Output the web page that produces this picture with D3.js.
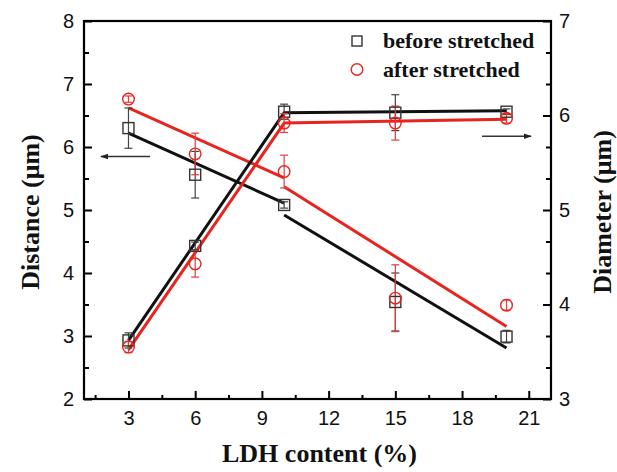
<!DOCTYPE html>
<html><head><meta charset="utf-8">
<script src="https://cdn.jsdelivr.net/npm/d3@7"></script>
<style>body{margin:0;background:#fff}svg{display:block}</style>
</head><body>
<script>
// ---- data ----
const xVals = [3, 6, 10, 15, 20];
const distBefore = [6.30, 5.56, 5.08, 3.54, 2.99];
const distBeforeErr = [0.32, 0.37, 0.05, 0.46, 0.10];
const distAfter = [6.76, 5.89, 5.61, 3.60, 3.49];
const distAfterErr = [0.05, 0.33, 0.26, 0.53, 0.08];
const diamBefore = [3.62, 4.62, 6.04, 6.03, 6.04];
const diamBeforeErr = [0.08, 0.04, 0.08, 0.19, 0.03];
const diamAfter = [3.55, 4.43, 5.92, 5.92, 5.97];
const diamAfterErr = [0.06, 0.14, 0.10, 0.18, 0.05];
// fitted line segments [x, y]
const distBeforeFit1 = [[3, 6.22], [10, 5.11]];
const distBeforeFit2 = [[10, 4.92], [20, 2.81]];
const distAfterFit1 = [[3, 6.62], [10, 5.51]];
const distAfterFit2 = [[10, 5.37], [20, 3.15]];
const diamBeforeFit = [[3, 3.62], [10, 6.03], [20, 6.05]];
const diamAfterFit = [[3, 3.52], [10, 5.92], [20, 5.96]];
// arrows indicating axes
const leftArrow = [[3.97, 5.85], [1.76, 5.85]];
const rightArrow = [[18.9, 5.78], [21.1, 5.78]];
const xTicks = [3, 6, 9, 12, 15, 18, 21];
const yLeftTicks = [2, 3, 4, 5, 6, 7, 8];
const yRightTicks = [3, 4, 5, 6, 7];
const legendLabels = ["before stretched", "after stretched"];

const W = 617, H = 472;
const m = {l: 84, r: 551, t: 21, b: 399};
const BLACK = "#111", RED = "#e8241f", ERRB = "#444", ERRR = "#e53a3a";

const svg = d3.select("body").append("svg").attr("width", W).attr("height", H)
  .style("font-family", "'Liberation Sans', Arial, sans-serif");
svg.append("rect").attr("width", W).attr("height", H).attr("fill", "#fff");

const x = d3.scaleLinear().domain([1, 22]).range([m.l, m.r]);
const yL = d3.scaleLinear().domain([2, 8]).range([m.b, m.t]);
const yR = d3.scaleLinear().domain([3, 7]).range([m.b, m.t]);

// axes (ticks inward)
const fmt = d3.format("d");
const tickStyle = g => {
  g.select(".domain").remove();
  g.selectAll("line").attr("stroke", "#000").attr("stroke-width", 2);
  g.selectAll("text").attr("font-size", 20).attr("fill", "#111");
};
// bottom
const xMinor = d3.range(1.5, 22, 3);
svg.append("g").attr("transform", `translate(0,${m.b})`)
  .call(d3.axisBottom(x).tickValues(xMinor).tickSize(-4).tickFormat(""))
  .call(tickStyle);
svg.append("g").attr("transform", `translate(0,${m.b})`)
  .call(d3.axisBottom(x).tickValues(xTicks).tickSize(-8).tickPadding(12).tickFormat(fmt))
  .call(tickStyle);
// left
svg.append("g").attr("transform", `translate(${m.l},0)`)
  .call(d3.axisLeft(yL).tickValues(d3.range(2.5, 8, 1)).tickSize(-5).tickFormat(""))
  .call(tickStyle);
svg.append("g").attr("transform", `translate(${m.l},0)`)
  .call(d3.axisLeft(yL).tickValues(yLeftTicks).tickSize(-8).tickPadding(10).tickFormat(fmt))
  .call(tickStyle);
// right
const rMinor = [];
for (let v = 3; v < 7; v++) { rMinor.push(v + 1/3, v + 2/3); }
svg.append("g").attr("transform", `translate(${m.r},0)`)
  .call(d3.axisRight(yR).tickValues(rMinor).tickSize(-5).tickFormat(""))
  .call(tickStyle);
svg.append("g").attr("transform", `translate(${m.r},0)`)
  .call(d3.axisRight(yR).tickValues(yRightTicks).tickSize(-8).tickPadding(8).tickFormat(fmt))
  .call(tickStyle);
// frame
svg.append("rect").attr("x", m.l).attr("y", m.t).attr("width", m.r - m.l).attr("height", m.b - m.t)
  .attr("fill", "none").attr("stroke", "#000").attr("stroke-width", 2.2);

// axis titles
const titleFont = "'Liberation Serif', 'Times New Roman', serif";
svg.append("text").attr("x", (m.l + m.r) / 2 + 2).attr("y", 462).attr("text-anchor", "middle")
  .attr("font-family", titleFont).attr("font-weight", "bold").attr("font-size", 26).attr("fill", "#111")
  .text("LDH content (%)");
svg.append("text").attr("transform", `translate(39,${(m.t + m.b) / 2 + 2}) rotate(-90)`).attr("text-anchor", "middle")
  .attr("font-family", titleFont).attr("font-weight", "bold").attr("font-size", 26).attr("fill", "#111")
  .text("Distance (μm)");
svg.append("text").attr("transform", `translate(611,${(m.t + m.b) / 2 + 2}) rotate(-90)`).attr("text-anchor", "middle")
  .attr("font-family", titleFont).attr("font-weight", "bold").attr("font-size", 26).attr("fill", "#111")
  .text("Diameter (μm)");

// fit lines
const lineL = d3.line().x(d => x(d[0])).y(d => yL(d[1]));
const lineR = d3.line().x(d => x(d[0])).y(d => yR(d[1]));
[[distBeforeFit1, BLACK], [distBeforeFit2, BLACK], [distAfterFit1, RED], [distAfterFit2, RED]].forEach(([d, c]) =>
  svg.append("path").attr("d", lineL(d)).attr("fill", "none").attr("stroke", c).attr("stroke-width", 3));
[[diamBeforeFit, BLACK], [diamAfterFit, RED]].forEach(([d, c]) =>
  svg.append("path").attr("d", lineR(d)).attr("fill", "none").attr("stroke", c).attr("stroke-width", 3)
    .attr("stroke-linejoin", "miter"));

// error bars
function errBars(vals, errs, y, color) {
  const g = svg.append("g").attr("stroke", color).attr("stroke-width", 1.2);
  xVals.forEach((xv, i) => {
    const cx = x(xv), y1 = y(vals[i] + errs[i]), y2 = y(vals[i] - errs[i]);
    g.append("line").attr("x1", cx).attr("x2", cx).attr("y1", y1).attr("y2", y2);
    g.append("line").attr("x1", cx - 4).attr("x2", cx + 4).attr("y1", y1).attr("y2", y1);
    g.append("line").attr("x1", cx - 4).attr("x2", cx + 4).attr("y1", y2).attr("y2", y2);
  });
}
errBars(distBefore, distBeforeErr, yL, ERRB);
errBars(diamBefore, diamBeforeErr, yR, ERRB);
errBars(distAfter, distAfterErr, yL, ERRR);
errBars(diamAfter, diamAfterErr, yR, ERRR);

// markers
function squares(vals, y) {
  svg.append("g").selectAll("rect").data(vals).join("rect")
    .attr("x", (d, i) => x(xVals[i]) - 5.5).attr("y", d => y(d) - 5.5)
    .attr("width", 11).attr("height", 11).attr("fill", "none").attr("stroke", "#333").attr("stroke-width", 1.4);
}
function circles(vals, y) {
  svg.append("g").selectAll("circle").data(vals).join("circle")
    .attr("cx", (d, i) => x(xVals[i])).attr("cy", d => y(d)).attr("r", 5.8)
    .attr("fill", "none").attr("stroke", RED).attr("stroke-width", 1.4);
}
squares(distBefore, yL); squares(diamBefore, yR);
circles(distAfter, yL); circles(diamAfter, yR);

// arrows
const defs = svg.append("defs");
defs.append("marker").attr("id", "ah").attr("viewBox", "0 0 10 10").attr("refX", 9).attr("refY", 5)
  .attr("markerWidth", 8).attr("markerHeight", 8).attr("markerUnits", "userSpaceOnUse").attr("orient", "auto")
  .append("path").attr("d", "M0,1.5 L10,5 L0,8.5 Z").attr("fill", "#222");
svg.append("path").attr("d", lineL(leftArrow)).attr("stroke", "#333").attr("stroke-width", 1.5).attr("marker-end", "url(#ah)");
svg.append("path").attr("d", lineR(rightArrow)).attr("stroke", "#333").attr("stroke-width", 1.5).attr("marker-end", "url(#ah)");

// legend
const lg = svg.append("g").attr("font-family", titleFont).attr("font-weight", "bold").attr("font-size", 22).attr("fill", "#111");
lg.append("rect").attr("x", 352).attr("y", 36).attr("width", 10).attr("height", 10)
  .attr("fill", "none").attr("stroke", "#333").attr("stroke-width", 1.4);
lg.append("circle").attr("cx", 357).attr("cy", 69.5).attr("r", 5.8)
  .attr("fill", "none").attr("stroke", RED).attr("stroke-width", 1.4);
lg.append("text").attr("x", 383).attr("y", 48).text(legendLabels[0]);
lg.append("text").attr("x", 383).attr("y", 77).text(legendLabels[1]);
</script>
</body></html>
